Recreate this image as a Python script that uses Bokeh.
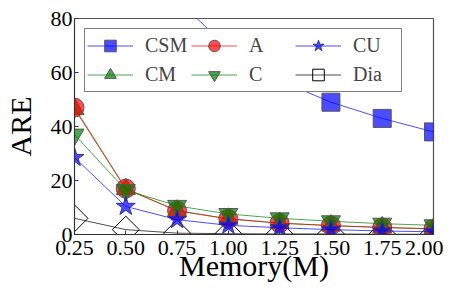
from bokeh.plotting import figure
from bokeh.models import FixedTicker, NumeralTickFormatter, Legend, LegendItem, Range1d
from bokeh.embed import file_html
from bokeh.resources import INLINE
import math

memory = [0.25, 0.50, 0.75, 1.00, 1.25, 1.50, 1.75, 2.00]
csm = [130, 105, 87, 69, 57, 49, 43, 38]
cm = [46.5, 16.8, 8.8, 5.8, 4.2, 3.3, 2.6, 2.1]
a = [47, 17, 8.8, 5.8, 4.2, 3.3, 2.6, 2.1]
c = [37, 16.5, 10.6, 7.6, 6.0, 4.9, 4.0, 3.4]
cu = [28.5, 10.4, 5.5, 3.4, 2.5, 1.8, 1.3, 1.0]
dia = [6.0, 1.8, 0.5, 0.3, 0.2, 0.2, 0.1, 0.1]
x_ticks = [0.25, 0.50, 0.75, 1.00, 1.25, 1.50, 1.75, 2.00]
y_ticks = [0, 20, 40, 60, 80]

FONT = "Liberation Serif"

p = figure(frame_width=359, frame_height=216, output_backend="svg", toolbar_location=None,
           x_range=Range1d(0.25, 2.0), y_range=Range1d(0, 80),
           min_border_left=72, min_border_right=10, min_border_top=18, min_border_bottom=40)
p.grid.visible = False
p.outline_line_color = "#555555"
p.outline_line_width = 1.2

# Dia drawn first (beneath the others)
r_dia_l = p.line(memory, dia, line_color="black", line_alpha=0.7, line_width=1)
r_dia_m = p.scatter(memory, dia, marker="square", size=19, angle=math.pi / 4,
                    fill_color=None, line_color="black", line_width=1)

r_csm_l = p.line(memory, csm, line_color="blue", line_alpha=0.7, line_width=1)
r_csm_m = p.scatter(memory, csm, marker="square", size=18, fill_color="blue", fill_alpha=0.7,
                    line_color="#555555", line_width=1)

r_cm_l = p.line(memory, cm, line_color="green", line_alpha=0.7, line_width=1)
r_cm_m = p.scatter(memory, cm, marker="triangle", size=19, fill_color="green", fill_alpha=0.7,
                   line_color="#555555", line_width=1)

r_a_l = p.line(memory, a, line_color="red", line_alpha=0.7, line_width=1)
r_a_m = p.scatter(memory, a, marker="circle", size=19, fill_color="red", fill_alpha=0.7,
                  line_color="#555555", line_width=1)

r_c_l = p.line(memory, c, line_color="green", line_alpha=0.7, line_width=1)
r_c_m = p.scatter(memory, c, marker="inverted_triangle", size=19, fill_color="green", fill_alpha=0.7,
                  line_color="#555555", line_width=1)

r_cu_l = p.line(memory, cu, line_color="blue", line_alpha=0.7, line_width=1)
r_cu_m = p.scatter(memory, cu, marker="star", size=20, fill_color="blue", fill_alpha=0.7,
                   line_color="#333399", line_width=1)

items = [
    LegendItem(label="CSM", renderers=[r_csm_l, r_csm_m]),
    LegendItem(label="CM", renderers=[r_cm_l, r_cm_m]),
    LegendItem(label="A", renderers=[r_a_l, r_a_m]),
    LegendItem(label="C", renderers=[r_c_l, r_c_m]),
    LegendItem(label="CU", renderers=[r_cu_l, r_cu_m]),
    LegendItem(label="Dia", renderers=[r_dia_l, r_dia_m]),
]
legend = Legend(items=items, location="top_left", nrows=2, orientation="vertical",
                label_text_font=FONT, label_text_font_size="20px",
                glyph_width=46, glyph_height=29, label_standoff=12, label_width=46,
                padding=2, spacing=0, margin=10,
                border_line_color="black", border_line_width=1.2,
                background_fill_color="white", background_fill_alpha=1.0)
p.add_layout(legend)

p.xaxis.ticker = FixedTicker(ticks=x_ticks)
p.xaxis.formatter = NumeralTickFormatter(format="0.00")
p.yaxis.ticker = FixedTicker(ticks=y_ticks)

for ax in (p.xaxis[0], p.yaxis[0]):
    ax.major_label_text_font = FONT
    ax.major_label_text_font_size = "22px"
    ax.major_label_text_color = "black"
    ax.axis_label_text_font = FONT
    ax.axis_label_text_font_size = "30px"
    ax.axis_label_text_font_style = "normal"
    ax.axis_label_text_color = "black"
    ax.major_tick_in = 4
    ax.major_tick_out = 0
    ax.minor_tick_in = 0
    ax.minor_tick_out = 0
    ax.axis_line_color = "#333333"
    ax.major_tick_line_color = "#333333"

p.xaxis.axis_label = "Memory(M)"
p.yaxis.axis_label = "ARE"
p.xaxis.major_label_standoff = 6
p.xaxis.axis_label_standoff = -9
p.yaxis.major_label_standoff = 2
p.yaxis.axis_label_standoff = 11

open("out.html", "w").write(file_html(p, INLINE))
